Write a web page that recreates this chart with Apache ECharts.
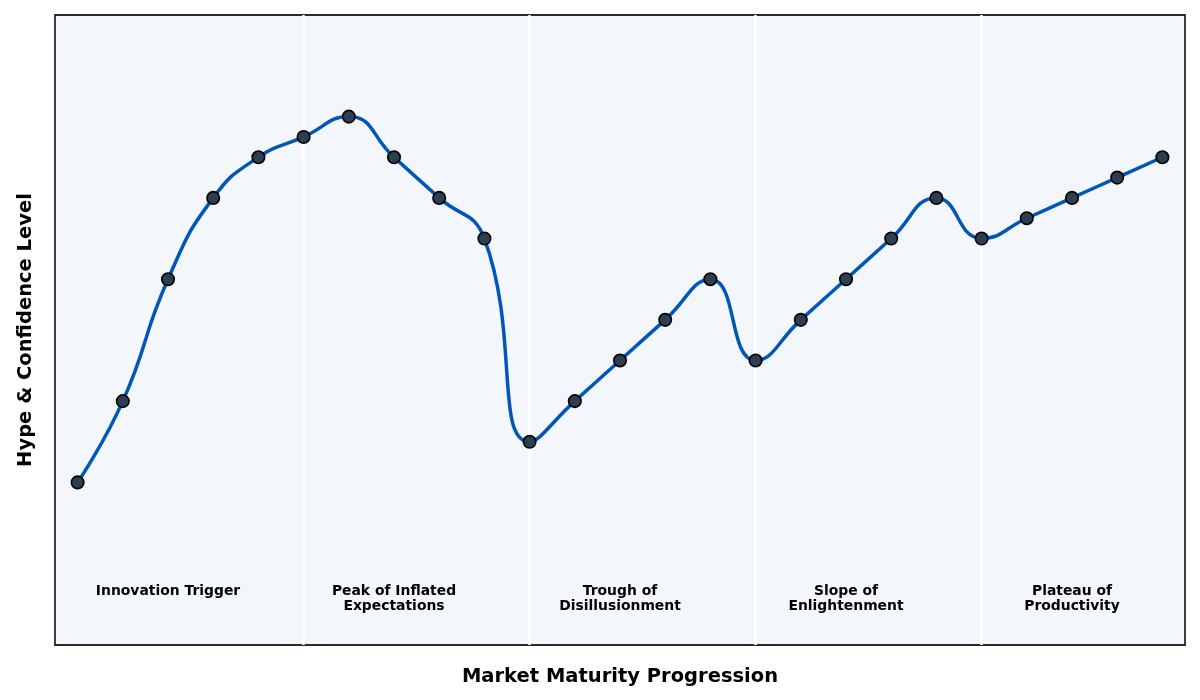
<!DOCTYPE html>
<html>
<head>
<meta charset="utf-8">
<script src="https://cdn.jsdelivr.net/npm/echarts@6/dist/echarts.min.js"></script>
<style>
html,body{margin:0;padding:0;background:#fff;}
#chart{width:1200px;height:700px;}
</style>
</head>
<body>
<div id="chart"></div>
<script>
const steps = [0,1,2,3,4,5,6,7,8,9,10,11,12,13,14,15,16,17,18,19,20,21,22,23,24];
const hype = [20,40,70,90,100,105,110,100,90,80,30,40,50,60,70,50,60,70,80,90,80,85,90,95,100];
const phaseNames = ['Innovation Trigger','Peak of Inflated\nExpectations','Trough of\nDisillusionment','Slope of\nEnlightenment','Plateau of\nProductivity'];
const phaseCenters = [2,7,12,17,22];
const phaseBounds = [5,10,15,20];
const labelY = -5;

const chart = echarts.init(document.getElementById('chart'));
const font = 'DejaVu Sans';
chart.setOption({
  animation:false,
  backgroundColor:'#ffffff',
  grid:{left:55,right:15,top:15,bottom:55,show:true,backgroundColor:'#f3f6fa',borderColor:'#2b2b2b',borderWidth:1.8},
  xAxis:{type:'value',min:-0.5,max:24.5,
    name:'Market Maturity Progression',nameLocation:'middle',nameGap:22,
    nameTextStyle:{fontFamily:font,fontWeight:'bold',fontSize:19.5,color:'#000'},
    axisLine:{show:false},axisTick:{show:false},axisLabel:{show:false},splitLine:{show:false}},
  yAxis:{type:'value',min:-20,max:135,
    name:'Hype & Confidence Level',nameLocation:'middle',nameGap:19,
    nameTextStyle:{fontFamily:font,fontWeight:'bold',fontSize:19.5,color:'#000'},
    axisLine:{show:false},axisTick:{show:false},axisLabel:{show:false},splitLine:{show:false}},
  series:[
    {type:'line',data:[],silent:true,z:1,
     markLine:{silent:true,symbol:'none',z:1,label:{show:false},
       lineStyle:{color:'#ffffff',width:2.5,type:'solid'},
       data:phaseBounds.map(b=>({xAxis:b}))}},
    {type:'line',smooth:0.5,data:steps.map((s,i)=>[s,hype[i]]),
     lineStyle:{color:'#0057b7',width:3.5},
     symbol:'circle',symbolSize:12.5,showSymbol:true,
     itemStyle:{color:'#2c3e50',borderColor:'#000000',borderWidth:1.6},z:5},
    {type:'scatter',symbolSize:0,silent:true,itemStyle:{opacity:1},
     data:phaseCenters.map((c,i)=>({value:[c,labelY],name:phaseNames[i]})),
     label:{show:true,position:'bottom',distance:0,align:'center',formatter:p=>p.name,
       fontFamily:font,fontWeight:'bold',fontSize:13.9,color:'#000000',opacity:1,lineHeight:15,textBorderWidth:0},z:6}
  ]
});
</script>
</body>
</html>
